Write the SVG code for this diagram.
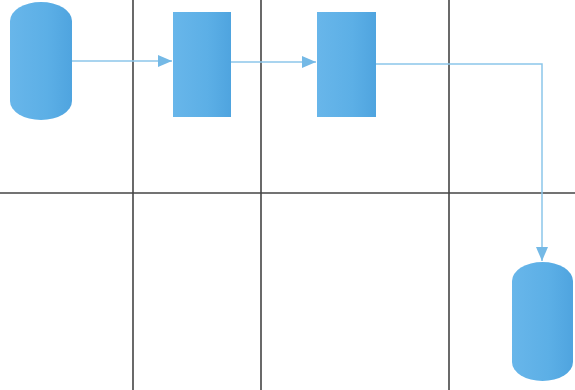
<svg xmlns="http://www.w3.org/2000/svg" width="575" height="390" viewBox="0 0 575 390">
<style>
.grid{stroke:#444444;stroke-width:1.6;fill:none}
.shape{fill:url(#g)}
.conn{stroke:#8cc6ea;stroke-width:1.5;fill:none;marker-end:url(#arr)}
</style>
<defs>
<linearGradient id="g" x1="0" y1="0" x2="1" y2="0">
<stop offset="0" stop-color="#68b6ea"/>
<stop offset="0.6" stop-color="#5cafe6"/>
<stop offset="1" stop-color="#4fa4df"/>
</linearGradient>
<marker id="arr" viewBox="0 0 14 12" refX="14" refY="6" markerWidth="14" markerHeight="12" markerUnits="userSpaceOnUse" orient="auto">
<path d="M0,0 L14,6 L0,12 z" fill="#74b9e6"/>
</marker>
</defs>
<rect width="575" height="390" fill="#ffffff"/>
<g id="grid">
<line class="grid" x1="0" y1="193" x2="575" y2="193"/>
<line class="grid" x1="133" y1="0" x2="133" y2="390"/>
<line class="grid" x1="261" y1="0" x2="261" y2="390"/>
<line class="grid" x1="449" y1="0" x2="449" y2="390"/>
</g>
<g id="connectors">
<path class="conn" d="M72,61 H172"/>
<path class="conn" d="M231,62 H316"/>
<path class="conn" d="M376,64 H542 V261"/>
</g>
<g id="node1"><rect class="shape" x="10" y="2" width="62" height="118" rx="31" ry="19"/></g>
<g id="node2"><rect class="shape" x="173" y="12" width="58" height="105"/></g>
<g id="node3"><rect class="shape" x="317" y="12" width="59" height="105"/></g>
<g id="node4"><rect class="shape" x="512" y="262" width="61" height="119" rx="30.5" ry="19"/></g>
</svg>
